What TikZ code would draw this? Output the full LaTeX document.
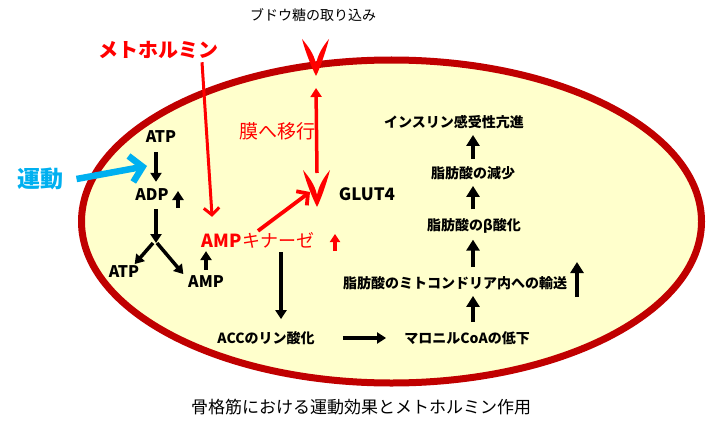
\documentclass[tikz,border=0pt]{standalone}
\usepackage{fontspec}
\setmainfont{Noto Sans CJK JP}
\usetikzlibrary{arrows.meta,shapes,calc}

\definecolor{celledge}{RGB}{192,0,0}
\definecolor{cellfill}{RGB}{255,255,204}
\definecolor{drugred}{RGB}{255,0,0}
\definecolor{sportblue}{RGB}{0,176,240}

\begin{document}
\begin{tikzpicture}[x=1pt,y=-1pt,>={Triangle[length=9pt,width=11pt]},auto,
  main node/.style={inner sep=1pt,font=\bfseries\fontsize{14}{14}\selectfont},
  latin node/.style={main node,font=\bfseries\fontsize{16}{16}\selectfont},
  flow/.style={->,line width=3.5pt},
  big flow/.style={->,line width=4.5pt,>={Triangle[length=11pt,width=13pt]}},
  redflow/.style={flow,draw=drugred},
  barb/.style={-{Straight Barb[length=#1,width=2.2*#1]}},
  glutv/.pic={
    \fill[drugred] (-14,-37) .. controls (-10,-22) and (-4,-8) .. (0,0)
      .. controls (4,-8) and (9,-22) .. (13,-37)
      .. controls (7,-30) and (2,-22) .. (0,-12)
      .. controls (-2,-22) and (-8,-30) .. cycle;}]

  \fill[white] (0,0) rectangle (708,425);
  \useasboundingbox (0,0) rectangle (708,425);

  % cell
  \draw[line width=7pt,draw=celledge,fill=cellfill] (391.5,221.5) ellipse [x radius=310pt,y radius=161.5pt];

  % outside labels
  \node (glucose) at (313,15) {\fontsize{14}{14}\selectfont ブドウ糖の取り込み};
  \node[text=drugred] (metformin) at (158,50) {\bfseries\fontsize{20}{20}\selectfont メトホルミン};
  \node[text=sportblue] (exercise) at (40,179) {\bfseries\fontsize{23}{23}\selectfont 運動};
  \node (caption) at (361,407) {\fontsize{17}{17}\selectfont 骨格筋における運動効果とメトホルミン作用};
  \coordinate (extip) at (147,166);

  % energy balance
  \node[latin node] (atpA) at (161,137) {ATP};
  \node[latin node] (adp) at (152,195) {ADP};
  \node[latin node] (atpB) at (124,272) {ATP};
  \node[latin node] (amp) at (206,282) {AMP};
  \coordinate (split) at (156,243);

  % kinase and GLUT4
  \node[inner sep=1pt,text=drugred] (ampk) at (258,240)
    {\fontsize{18}{18}\selectfont\textbf{AMP}キナーゼ};
  \node[text=drugred] (move) at (277,131) {\fontsize{19}{19}\selectfont 膜へ移行};
  \node[latin node,font=\bfseries\fontsize{17}{17}\selectfont] (glut) at (367,194) {GLUT4};
  \coordinate (vtop) at (316,76);
  \coordinate (vlow) at (317,207);
  \pic at (vtop) {glutv};
  \pic at (vlow) {glutv};

  % fatty acid chain
  \node[main node] (acc) at (266,338) {ACCのリン酸化};
  \node[main node] (malonyl) at (467,338) {マロニルCoAの低下};
  \node[main node] (transport) at (455,283) {脂肪酸のミトコンドリア内への輸送};
  \node[main node] (beta) at (474,226) {脂肪酸のβ酸化};
  \node[main node] (fatdec) at (473,173) {脂肪酸の減少};
  \node[main node] (insulin) at (454,122) {インスリン感受性亢進};
  \coordinate (chain) at (473,0);
  \coordinate (kdown) at (281,0);

  % free up arrows
  \coordinate (adpup) at (178,208);
  \coordinate (ampkup) at (335,251);
  \coordinate (transup) at (577,297);

  \path[every node/.style={}]
    ([xshift=-5pt]atpA.south) edge[flow,shorten <=8pt,shorten >=6pt] ([xshift=4pt]adp.north)
    ([xshift=4pt]adp.south) edge[flow,shorten <=7pt,shorten >=4pt] ([yshift=-4pt]split)
    ([xshift=-3pt]split) edge[flow,shorten >=1pt] ([xshift=10pt]atpB.north)
    ([xshift=1pt]split) edge[flow,shorten >=1pt] ([xshift=-22pt]amp.north)
    (amp.north) edge[flow,shorten <=5pt,shorten >=2pt] (amp.north |- ampk.south)
    (adpup) edge[flow] ++(0,-17)
    (ampk.south -| kdown) edge[flow,shorten <=3pt,shorten >=11pt] (acc.north -| kdown)
    (acc.east) edge[flow,shorten <=27pt,shorten >=17pt] (malonyl.west)
    (malonyl.north -| chain) edge[big flow,shorten <=8pt,shorten >=5pt] (transport.south -| chain)
    (transport.north -| chain) edge[big flow,shorten <=8pt,shorten >=5pt] (beta.south -| chain)
    (beta.north -| chain) edge[big flow,shorten <=8pt,shorten >=5pt] (fatdec.south -| chain)
    (fatdec.north -| chain) edge[big flow,shorten <=6pt,shorten >=5pt] (insulin.south -| chain)
    (transup) edge[big flow] ++(0,-35);

  % drug and exercise effects
  \path
    ([xshift=44pt]metformin.south) edge[barb=7pt,line width=3pt,draw=drugred,shorten >=14pt] ([xshift=-45pt]ampk.north)
    (ampk.north) edge[barb=8pt,line width=3.8pt,draw=drugred] ($(vlow)+(-7,-15)$)
    ($(vlow)+(0,-34)$) edge[redflow] ($(vtop)+(0,12)$)
    (ampkup) edge[redflow,>={Triangle[length=8pt,width=10pt]}] ++(0,-17)
    ([xshift=10pt]exercise.east) edge[barb=12pt,line width=6.5pt,draw=sportblue] (extip);
\end{tikzpicture}
\end{document}
